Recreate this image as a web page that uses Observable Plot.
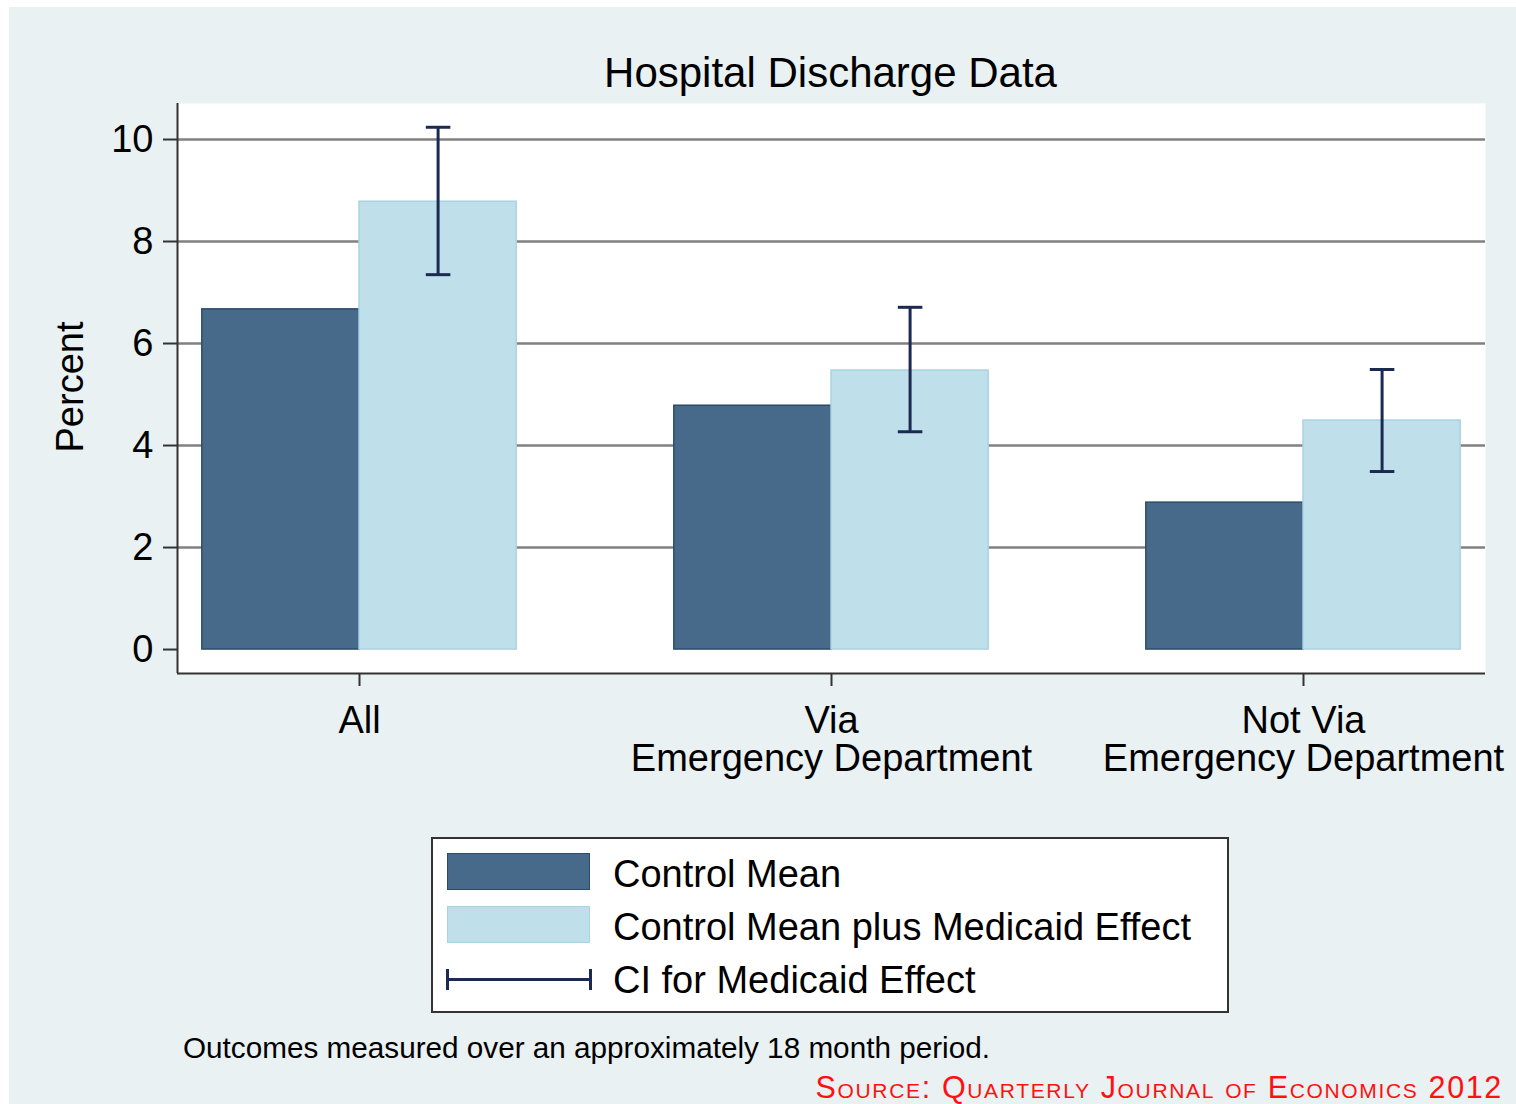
<!DOCTYPE html>
<html>
<head>
<meta charset="utf-8">
<script src="https://cdn.jsdelivr.net/npm/d3@7"></script>
<script src="https://cdn.jsdelivr.net/npm/@observablehq/plot@0.6"></script>
<style>
  html, body { margin: 0; padding: 0; background: #ffffff; }
  body { width: 1516px; height: 1104px; position: relative; overflow: hidden;
         font-family: "Liberation Sans", Arial, sans-serif; color: #000; }
  #bg { position: absolute; left: 9px; top: 7px; width: 1507px; height: 1097px; background: #e9f1f3; }
  #chart { position: absolute; left: 0; top: 0; }
  .txt { position: absolute; white-space: nowrap; line-height: 1; }
  #legend { position: absolute; left: 431px; top: 837px; width: 794px; height: 172px;
            border: 2px solid #333; background: #fff; }
  .sw { position: absolute; box-sizing: border-box; }
</style>
</head>
<body>
<div id="bg"></div>
<div id="chart"></div>
<div class="txt" id="title" style="font-size:42px; left:0; width:1661px; text-align:center; top:52px;">Hospital Discharge Data</div>
<div class="txt" id="ylabel" style="font-size:38px; left:70px; top:387px; transform: translate(-50%,-50%) rotate(-90deg);">Percent</div>
<div id="legend"></div>
<div class="txt" id="caption" style="font-size:29.7px; left:183px; top:1033px;">Outcomes measured over an approximately 18 month period.</div>
<div class="txt" id="source" style="font-size:30.5px; right:13px; top:1072px; color:#ff1010; font-variant: small-caps; letter-spacing:1.65px;">Source: Quarterly Journal of Economics 2012</div>
<script>
// ---- data ----
const groups = ["All", "Via\nEmergency Department", "Not Via\nEmergency Department"];
const controlMean = [6.67, 4.78, 2.88];
const controlPlusEffect = [8.78, 5.47, 4.49];
const ciLow = [7.35, 4.27, 3.49];
const ciHigh = [10.24, 6.71, 5.49];
const yTicks = [0, 2, 4, 6, 8, 10];
const gridTicks = [2, 4, 6, 8, 10];
const seriesNames = ["Control Mean", "Control Mean plus Medicaid Effect", "CI for Medicaid Effect"];

// ---- style ----
const colControl = "#486a8a", strokeControl = "#2c4b6c";
const colPlus = "#bfe0ea", strokePlus = "#a9d3e1";
const colCI = "#1c2a52";
const xDomain = [-0.3856, 2.3856];
const yDomain = [-0.47, 10.706];
const halfBar = 0.333;
const capHalf = 0.026;

const rows = groups.map((g, i) => ({i, g, control: controlMean[i], plus: controlPlusEffect[i], lo: ciLow[i], hi: ciHigh[i]}));
const ciX = d => d.i + halfBar / 2;

const plot = Plot.plot({
  width: 1516,
  height: 800,
  marginLeft: 177,
  marginRight: 31,
  marginTop: 103,
  marginBottom: 127,
  style: {background: "transparent", fontSize: "38px", fontFamily: "'Liberation Sans', Arial, sans-serif", color: "#000"},
  x: {type: "linear", domain: xDomain},
  y: {domain: yDomain},
  marks: [
    Plot.frame({fill: "white", stroke: null}),
    Plot.ruleY(gridTicks, {stroke: "#808080", strokeWidth: 2.4}),
    Plot.rectY(rows, {x1: d => d.i - halfBar, x2: d => d.i, y1: 0, y2: "control", fill: colControl, stroke: strokeControl, strokeWidth: 1.5}),
    Plot.rectY(rows, {x1: d => d.i, x2: d => d.i + halfBar, y1: 0, y2: "plus", fill: colPlus, stroke: strokePlus, strokeWidth: 1.5}),
    Plot.ruleX(rows, {x: ciX, y1: "lo", y2: "hi", stroke: colCI, strokeWidth: 3}),
    Plot.link(rows, {x1: d => ciX(d) - capHalf, x2: d => ciX(d) + capHalf, y1: "lo", y2: "lo", stroke: colCI, strokeWidth: 3}),
    Plot.link(rows, {x1: d => ciX(d) - capHalf, x2: d => ciX(d) + capHalf, y1: "hi", y2: "hi", stroke: colCI, strokeWidth: 3}),
    Plot.ruleX([xDomain[0]], {stroke: "#333", strokeWidth: 2}),
    Plot.ruleY([yDomain[0]], {stroke: "#333", strokeWidth: 2}),
    Plot.axisY(yTicks, {tickSize: 14, tickPadding: 10, stroke: "#333", strokeWidth: 2, label: null, tickFormat: d => String(d)}),
    Plot.axisX(rows.map(d => d.i), {tickSize: 13, tickPadding: 20, stroke: "#333", strokeWidth: 2, label: null, tickFormat: i => groups[i]})
  ]
});
document.getElementById("chart").appendChild(plot);

// ---- legend ----
const legend = document.getElementById("legend");
const L = 431 + 2, T = 837 + 2; // inner origin
function add(html) { legend.insertAdjacentHTML("beforeend", html); }
add(`<div class="sw" style="left:${447-L}px; top:${853-T}px; width:143px; height:37px; background:${colControl}; border:1.5px solid ${strokeControl};"></div>`);
add(`<div class="sw" style="left:${447-L}px; top:${906-T}px; width:143px; height:37px; background:${colPlus}; border:1.5px solid ${strokePlus};"></div>`);
add(`<div class="sw" style="left:${447-L}px; top:${978-T}px; width:143px; height:3px; background:${colCI};"></div>`);
add(`<div class="sw" style="left:${446-L}px; top:${969-T}px; width:3px; height:21px; background:${colCI};"></div>`);
add(`<div class="sw" style="left:${589-L}px; top:${969-T}px; width:3px; height:21px; background:${colCI};"></div>`);
const baselines = [887, 940, 993];
seriesNames.forEach((s, k) => {
  add(`<div class="txt" style="font-size:38px; left:${613-L}px; top:${baselines[k] - 0.8465*38 - T}px;">${s}</div>`);
});
</script>
</body>
</html>
